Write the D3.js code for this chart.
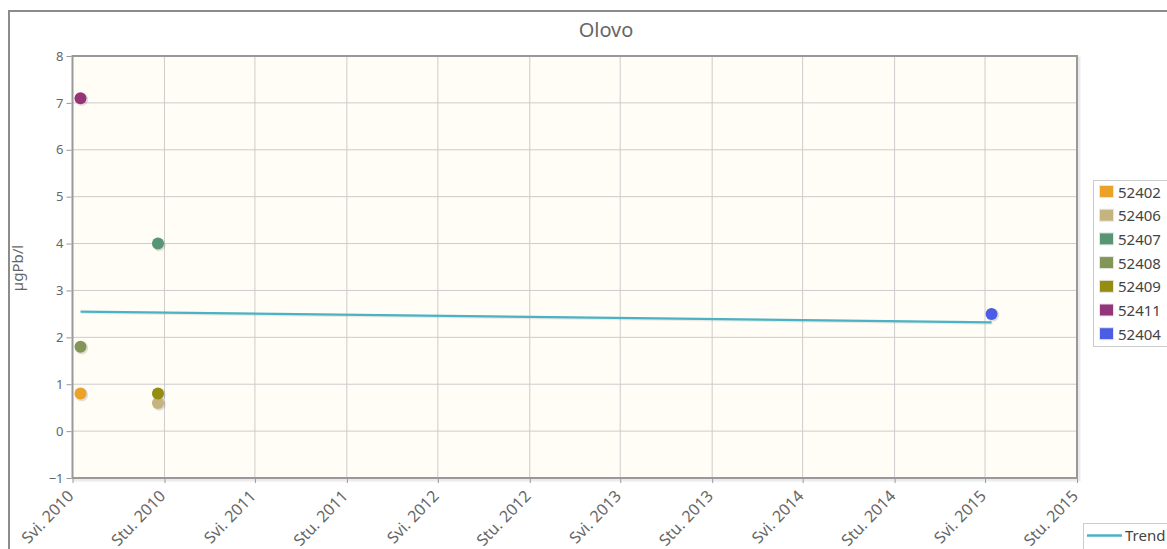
<!DOCTYPE html>
<html>
<head>
<meta charset="utf-8">
<script src="https://cdn.jsdelivr.net/npm/d3@7"></script>
<style>
  html, body { margin: 0; padding: 0; background: #fff; }
  svg { display: block; font-family: 'Noto Sans', sans-serif; }
</style>
</head>
<body>
<svg id="chart" width="1167" height="549"></svg>
<script>
// ---- data ---------------------------------------------------------
const title   = "Olovo";
const yLabel  = "µgPb/l";
const series  = ["52402", "52406", "52407", "52408", "52409", "52411", "52404"];
const colors  = ["#EAA228", "#c5b47f", "#579575", "#839557", "#958c12", "#953579", "#4b5de4"];
const pDates  = ["2010-05-17", "2010-10-19", "2010-10-19", "2010-05-17", "2010-10-19", "2010-05-17", "2015-05-14"];
const pValues = [0.8, 0.6, 4.0, 1.8, 0.8, 7.1, 2.5];
const trendDates  = ["2010-05-17", "2015-05-14"];
const trendValues = [2.55, 2.32];
const trendColor  = "#4bb2c5";
const tickDates  = ["2010-05-01","2010-11-01","2011-05-01","2011-11-01","2012-05-01","2012-11-01",
                    "2013-05-01","2013-11-01","2014-05-01","2014-11-01","2015-05-01","2015-11-01"];
const tickLabels = ["Svi. 2010","Stu. 2010","Svi. 2011","Stu. 2011","Svi. 2012","Stu. 2012",
                    "Svi. 2013","Stu. 2013","Svi. 2014","Stu. 2014","Svi. 2015","Stu. 2015"];
const yTicks = [-1, 0, 1, 2, 3, 4, 5, 6, 7, 8];

const parse = d3.timeParse("%Y-%m-%d");
const svg = d3.select("#chart");
const plot = { left: 72.5, right: 1077, top: 56, bottom: 478 };

const x = d3.scaleTime()
  .domain([parse(tickDates[0]), parse(tickDates[tickDates.length - 1])])
  .range([plot.left, plot.right]);
const y = d3.scaleLinear().domain([-1, 8]).range([plot.bottom, plot.top]);

// outer frame
svg.append("path")
  .attr("d", `M9,549 V11 H1167`)
  .attr("fill", "none").attr("stroke", "#8c8c8c").attr("stroke-width", 2);

// title
svg.append("text")
  .attr("x", 606).attr("y", 37)
  .attr("text-anchor", "middle")
  .attr("font-size", 20).attr("fill", "#666")
  .text(title);

// plot background + shadow
svg.append("rect")
  .attr("x", plot.left + 2).attr("y", plot.top + 2)
  .attr("width", plot.right - plot.left).attr("height", plot.bottom - plot.top)
  .attr("fill", "none").attr("stroke", "rgba(0,0,0,0.08)").attr("stroke-width", 3);
svg.append("rect")
  .attr("x", plot.left).attr("y", plot.top)
  .attr("width", plot.right - plot.left).attr("height", plot.bottom - plot.top)
  .attr("fill", "#fffdf6");

// grid
const tickD = tickDates.map(parse);
svg.append("g").selectAll("line").data(tickD).join("line")
  .attr("x1", d => x(d)).attr("x2", d => x(d))
  .attr("y1", plot.top).attr("y2", plot.bottom)
  .attr("stroke", "#cccccc").attr("stroke-width", 1);
svg.append("g").selectAll("line").data(yTicks).join("line")
  .attr("x1", plot.left).attr("x2", plot.right)
  .attr("y1", d => y(d)).attr("y2", d => y(d))
  .attr("stroke", "#cccccc").attr("stroke-width", 1);

// border
svg.append("rect")
  .attr("x", plot.left).attr("y", plot.top)
  .attr("width", plot.right - plot.left).attr("height", plot.bottom - plot.top)
  .attr("fill", "none").attr("stroke", "#999999").attr("stroke-width", 2);

// y axis
const yAxis = svg.append("g")
  .attr("transform", `translate(${plot.left - 1},0)`)
  .call(d3.axisLeft(y).tickValues(yTicks).tickSize(5).tickPadding(3).tickFormat(d3.format("d")));
yAxis.select(".domain").remove();
yAxis.selectAll("line").attr("stroke", "#999");
yAxis.selectAll("text").attr("fill", "#666").attr("font-size", 13).attr("font-family", "'Noto Sans', sans-serif");

// x axis ticks
const xAxis = svg.append("g")
  .attr("transform", `translate(0,${plot.bottom + 1})`)
  .call(d3.axisBottom(x).tickValues(tickD).tickSize(4).tickFormat(() => ""));
xAxis.select(".domain").remove();
xAxis.selectAll("line").attr("stroke", "#999");

svg.append("g").selectAll("text").data(tickD).join("text")
  .attr("transform", d => `translate(${x(d) + 2},${plot.bottom + 19}) rotate(-46)`)
  .attr("text-anchor", "end")
  .attr("font-size", 16).attr("fill", "#666")
  .text((d, i) => tickLabels[i]);

// y label
svg.append("text")
  .attr("transform", `translate(23,268) rotate(-90)`)
  .attr("text-anchor", "middle")
  .attr("font-size", 15).attr("fill", "#666")
  .text(yLabel);

// trend line
const line = d3.line().x(d => x(d[0])).y(d => y(d[1]));
const trend = trendDates.map((d, i) => [parse(d), trendValues[i]]);
svg.append("path").datum(trend)
  .attr("d", line).attr("transform", "translate(1,1)")
  .attr("fill", "none").attr("stroke", "rgba(0,0,0,0.08)").attr("stroke-width", 3);
svg.append("path").datum(trend)
  .attr("d", line)
  .attr("fill", "none").attr("stroke", trendColor).attr("stroke-width", 2.2);

// points
const pts = series.map((s, i) => ({ s, c: colors[i], d: parse(pDates[i]), v: pValues[i] }));
const gP = svg.append("g");
gP.selectAll("circle.sh").data(pts).join("circle")
  .attr("class", "sh")
  .attr("cx", d => x(d.d) + 1.2).attr("cy", d => y(d.v) + 1.2).attr("r", 6.5)
  .attr("fill", "rgba(0,0,0,0.12)");
gP.selectAll("circle.pt").data(pts).join("circle")
  .attr("class", "pt")
  .attr("cx", d => x(d.d)).attr("cy", d => y(d.v)).attr("r", 6)
  .attr("fill", d => d.c);

// legend
const lg = svg.append("g");
lg.append("rect")
  .attr("x", 1093.5).attr("y", 180.5).attr("width", 90).attr("height", 166)
  .attr("fill", "#fff").attr("stroke", "#cccccc");
const rows = lg.selectAll("g.row").data(pts).join("g")
  .attr("class", "row")
  .attr("transform", (d, i) => `translate(0,${192 + i * 23.7})`);
rows.append("rect")
  .attr("x", 1099.5).attr("y", -6.5).attr("width", 14).attr("height", 12)
  .attr("fill", d => d.c).attr("stroke", "#e6e6e6");
rows.append("text")
  .attr("x", 1118).attr("y", 5.5)
  .attr("font-size", 15).attr("fill", "#444")
  .text(d => d.s);

// trend legend
const tl = svg.append("g");
tl.append("rect")
  .attr("x", 1083.5).attr("y", 523.5).attr("width", 100).attr("height", 30)
  .attr("fill", "#fff").attr("stroke", "#cccccc");
tl.append("line")
  .attr("x1", 1087).attr("x2", 1122).attr("y1", 535.5).attr("y2", 535.5)
  .attr("stroke", trendColor).attr("stroke-width", 2.5);
tl.append("text")
  .attr("x", 1125).attr("y", 540.5)
  .attr("font-size", 15).attr("fill", "#444")
  .text("Trend");
</script>
</body>
</html>
